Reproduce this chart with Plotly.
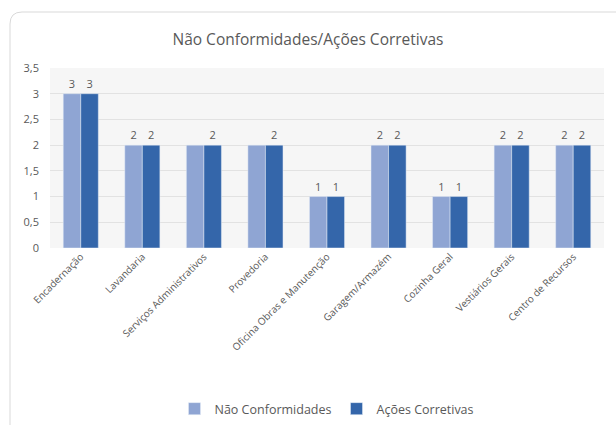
import plotly.graph_objects as go

categories = ["Encadernação", "Lavandaria", "Serviços Administrativos", "Provedoria",
              "Oficina Obras e Manutenção", "Garagem/Armazém", "Cozinha Geral",
              "Vestiários Gerais", "Centro de Recursos"]
nao_conformidades = [3, 2, 2, 2, 1, 2, 1, 2, 2]
acoes_corretivas = [3, 2, 2, 2, 1, 2, 1, 2, 2]
# data labels visible for the first series (two were hidden in the original)
show_label_nc = [True, True, False, False, True, True, True, True, True]
y_ticks = [0, 0.5, 1, 1.5, 2, 2.5, 3, 3.5]

light = "#8FA5D3"
dark = "#3466AA"
txt = "#595959"
font = "Open Sans, Noto Sans, sans-serif"

fig = go.Figure()
fig.add_trace(go.Bar(
    name="Não Conformidades", x=categories, y=nao_conformidades, marker_color=light,
    text=[str(v) if s else "" for v, s in zip(nao_conformidades, show_label_nc)],
    textposition="outside", textfont=dict(size=11, color=txt), cliponaxis=False,
))
fig.add_trace(go.Bar(
    name="Ações Corretivas", x=categories, y=acoes_corretivas, marker_color=dark,
    text=[str(v) for v in acoes_corretivas],
    textposition="outside", textfont=dict(size=11, color=txt), cliponaxis=False,
))

L, R, T, B = 50, 12, 68, 177
W, H = 616, 425
pw, ph = W - L - R, H - T - B

fig.update_layout(
    width=W, height=H,
    margin=dict(l=L, r=R, t=T, b=B, autoexpand=False),
    paper_bgcolor="white", plot_bgcolor="#F6F6F6",
    separators=",.",
    barmode="group", bargap=0.43, bargroupgap=0,
    font=dict(family=font, color=txt, size=10),
    title=dict(text="Não Conformidades/Ações Corretivas", x=0.5, xanchor="center",
               y=1 - 40 / H, yanchor="middle", font=dict(size=15.5, color=txt)),
    legend=dict(orientation="h", x=0.5, xanchor="center", y=-(409 - (T + ph)) / ph,
                yanchor="middle", font=dict(size=12.5, color=txt), traceorder="normal"),
    xaxis=dict(tickangle=-45, tickfont=dict(size=10, color=txt), showgrid=False,
               ticks="", showline=False, automargin=False),
    yaxis=dict(range=[0, 3.5], tickvals=y_ticks, tickfont=dict(size=11, color=txt),
               gridcolor="#E2E2E2", zeroline=False, showline=False, ticks="",
               ticklabelstandoff=10, automargin=False),
)

# chart border (top-left rounded, cropped at right and bottom)
x0, x1 = (10 - L) / pw, (W + 20 - L) / pw
y0, y1 = -(H + 20 - T - ph) / ph, (T + ph - 12) / ph
rx, ry = 12 / pw, 12 / ph
path = (f"M {x0+rx},{y1} L {x1},{y1} L {x1},{y0} L {x0},{y0} "
        f"L {x0},{y1-ry} Q {x0},{y1} {x0+rx},{y1} Z")
fig.add_shape(type="path", xref="paper", yref="paper", path=path,
              line=dict(color="#D9D9D9", width=1), layer="below")

fig.write_html("out.html", config={"displayModeBar": False},
               post_script="document.body.style.margin='0';document.body.style.overflow='hidden';")
